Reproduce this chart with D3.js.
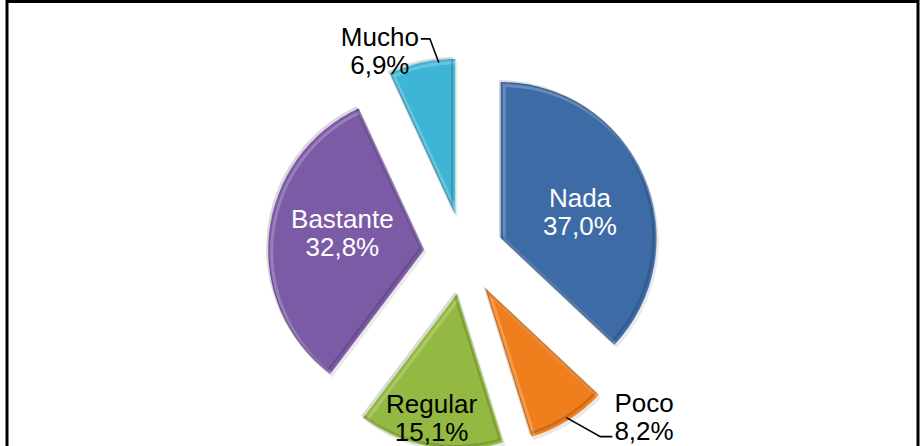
<!DOCTYPE html>
<html>
<head>
<meta charset="utf-8">
<script src="https://cdn.jsdelivr.net/npm/d3@7"></script>
<style>
  body { margin: 0; background: #fff; }
  svg { display: block; }
  .lbl { font-family: "Liberation Sans", Arial, sans-serif; font-size: 26px; }
</style>
</head>
<body>
<svg id="chart" width="921" height="446"></svg>
<script>
// data
const categories = ["Nada", "Poco", "Regular", "Bastante", "Mucho"];
const values = [37.0, 8.2, 15.1, 32.8, 6.9];
const colors = ["#3d6ba6", "#f07e1c", "#93b942", "#7b5ba6", "#3fb5d5"];

const W = 921, H = 446;
const cx = 464, cy = 254;
const radius = 156;
const explode = 40;

const svg = d3.select("#chart");

// spanish decimal comma
const locale = d3.formatLocale({decimal: ",", thousands: ".", grouping: [3], currency: ["", "€"]});
const fmt = locale.format(".1f");

const data = categories.map((c, i) => ({name: c, value: values[i], color: colors[i]}));

const pie = d3.pie().sort(null).value(d => d.value);
const arcs = pie(data);
const arc = d3.arc().innerRadius(0).outerRadius(radius);

// offset of each slice along its middle angle
function offset(a, dist) {
    const m = (a.startAngle + a.endAngle) / 2;
    return [Math.sin(m) * dist, -Math.cos(m) * dist];
}
function polar(angle, r) {
    return [Math.sin(angle) * r, -Math.cos(angle) * r];
}

const defs = svg.append("defs");
const g = svg.append("g").attr("transform", `translate(${cx},${cy})`);

const slices = g.selectAll("g.slice")
    .data(arcs)
    .join("g")
    .attr("class", "slice")
    .attr("transform", d => {
        const o = offset(d, explode);
        return `translate(${o[0]},${o[1]})`;
    });

slices.each(function(d, i) {
    defs.append("clipPath").attr("id", "clip" + i)
        .append("path").attr("d", arc(d));
});

// soft shadow
slices.append("path")
    .attr("d", arc)
    .attr("transform", "translate(2,3)")
    .style("fill", "#000")
    .style("opacity", 0.1);

slices.append("path")
    .attr("d", arc)
    .style("fill", d => d.data.color);

// bevel like edge: light on top-left, dark on bottom-right
slices.append("path")
    .attr("d", arc)
    .attr("clip-path", (d, i) => `url(#clip${i})`)
    .attr("transform", "translate(2,2)")
    .style("fill", "none")
    .style("stroke", "#fff")
    .style("stroke-opacity", 0.22)
    .style("stroke-width", 6);
slices.append("path")
    .attr("d", arc)
    .attr("clip-path", (d, i) => `url(#clip${i})`)
    .attr("transform", "translate(-2,-2)")
    .style("fill", "none")
    .style("stroke", "#000")
    .style("stroke-opacity", 0.15)
    .style("stroke-width", 5);

// labels
const lineGap = 28;
arcs.forEach(function(d) {
    const o = offset(d, explode);
    const mid = (d.startAngle + d.endAngle) / 2;
    const name = d.data.name;
    const pct = fmt(d.data.value) + "%";
    let tx, ty, fill = "#000";
    let edge = null, side = 0;

    if (d.data.value > 20) {
        // big slices: label inside, white
        const p = polar(mid + 0.09, radius * 0.535);
        tx = o[0] + p[0];
        ty = o[1] + p[1];
        fill = "#fff";
    } else if (d.data.value > 12) {
        // regular: inside near the rim
        const p = polar(mid, radius * 0.84);
        tx = o[0] + p[0] - 3;
        ty = o[1] + p[1] - 4;
    } else {
        // small slices: outside with a leader line
        const right = mid < Math.PI;
        const ang = right ? mid : d.startAngle + (d.endAngle - d.startAngle) * 0.75;
        const p0 = polar(ang, radius - 3);
        const start = [o[0] + p0[0], o[1] + p0[1]];
        const elbow = right ? [start[0] + 34, start[1] + 19] : [start[0] - 9, start[1] - 24];
        const end = right ? [elbow[0] + 12, elbow[1]] : [elbow[0] - 9, elbow[1]];
        g.append("path")
            .attr("d", d3.line()([start, elbow, end]))
            .style("fill", "none")
            .style("stroke", "#000")
            .style("stroke-width", 1.6);
        side = right ? 1 : -1;
        edge = end[0] + side * 2;
        ty = right ? end[1] - lineGap / 2 - 6 : end[1] + lineGap / 2 - 2;
        tx = edge;
    }

    const t = g.append("text")
        .attr("class", "lbl")
        .attr("text-anchor", "middle")
        .style("fill", fill);
    const t1 = t.append("tspan").attr("y", ty - lineGap / 2 + 9).text(name);
    const t2 = t.append("tspan").attr("y", ty + lineGap / 2 + 9).text(pct);
    if (edge !== null) {
        // center the lines in a box hanging off the leader end
        const wmax = Math.max(t1.node().getComputedTextLength(), t2.node().getComputedTextLength());
        tx = edge + side * wmax / 2;
    }
    t1.attr("x", tx);
    t2.attr("x", tx);
});

// frame of the original (bottom is cropped)
svg.append("path")
    .attr("d", d3.line()([[7, H], [7, 1.5], [918, 1.5], [918, H]]))
    .style("fill", "none")
    .style("stroke", "#000")
    .style("stroke-width", 3);
</script>
</body>
</html>
